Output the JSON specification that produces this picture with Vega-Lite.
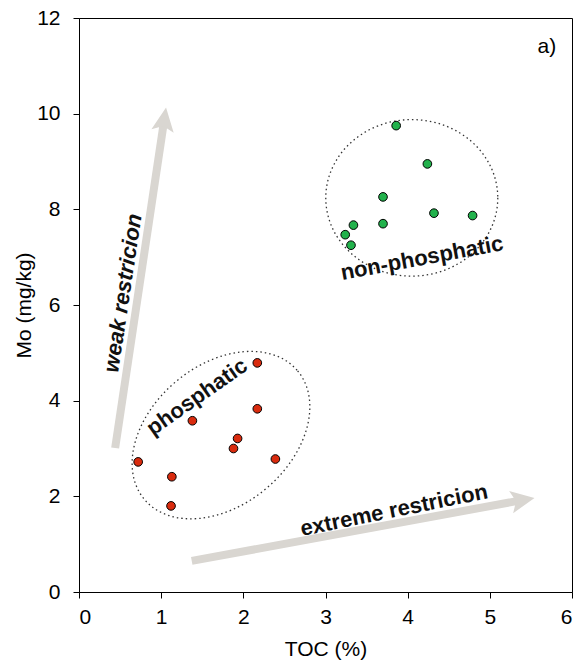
{
  "$schema": "https://vega.github.io/schema/vega-lite/v6.json",
  "width": 493,
  "height": 574,
  "autosize": "none",
  "padding": {"left": 79, "top": 18, "right": 10, "bottom": 76},
  "background": "white",
  "config": {
    "view": {"stroke": "black", "strokeWidth": 1},
    "axis": {
      "grid": false,
      "domainColor": "black",
      "tickColor": "black",
      "labelColor": "black",
      "titleColor": "black",
      "labelFont": "Liberation Sans",
      "titleFont": "Liberation Sans",
      "labelFontSize": 21,
      "titleFontSize": 21,
      "titleFontWeight": "normal",
      "tickSize": 6,
      "domainWidth": 1,
      "tickWidth": 1
    },
    "text": {"font": "Liberation Sans"}
  },
  "datasets": {
    "samples": [
      {"type": "phosphatic", "TOC": 2.17, "Mo": 4.79},
      {"type": "phosphatic", "TOC": 2.17, "Mo": 3.83},
      {"type": "phosphatic", "TOC": 1.38, "Mo": 3.58},
      {"type": "phosphatic", "TOC": 1.93, "Mo": 3.21},
      {"type": "phosphatic", "TOC": 1.88, "Mo": 3.00},
      {"type": "phosphatic", "TOC": 2.39, "Mo": 2.78},
      {"type": "phosphatic", "TOC": 0.72, "Mo": 2.72},
      {"type": "phosphatic", "TOC": 1.13, "Mo": 2.41},
      {"type": "phosphatic", "TOC": 1.12, "Mo": 1.80},
      {"type": "non-phosphatic", "TOC": 3.86, "Mo": 9.75},
      {"type": "non-phosphatic", "TOC": 4.24, "Mo": 8.95},
      {"type": "non-phosphatic", "TOC": 3.70, "Mo": 8.26},
      {"type": "non-phosphatic", "TOC": 4.32, "Mo": 7.92},
      {"type": "non-phosphatic", "TOC": 4.79, "Mo": 7.87},
      {"type": "non-phosphatic", "TOC": 3.70, "Mo": 7.70},
      {"type": "non-phosphatic", "TOC": 3.34, "Mo": 7.67},
      {"type": "non-phosphatic", "TOC": 3.24, "Mo": 7.47},
      {"type": "non-phosphatic", "TOC": 3.31, "Mo": 7.25}
    ],
    "regions": [
      {"region": "phosphatic", "TOC": 1.728, "Mo": 3.28},
      {"region": "non-phosphatic", "TOC": 4.05, "Mo": 8.24}
    ],
    "arrows": [
      {"arrow": "weak", "TOC": 0.44, "Mo": 3.01, "TOC2": 1.037, "Mo2": 9.87},
      {"arrow": "extreme", "TOC": 1.372, "Mo": 0.65, "TOC2": 5.394, "Mo2": 1.92}
    ],
    "labels": [
      {"label": "weak restricion", "TOC": 0.535, "Mo": 6.25},
      {"label": "phosphatic", "TOC": 1.436, "Mo": 4.08},
      {"label": "non-phosphatic", "TOC": 4.174, "Mo": 6.98},
      {"label": "extreme restricion", "TOC": 3.833, "Mo": 1.71},
      {"label": "a)", "TOC": 5.695, "Mo": 11.39}
    ]
  },
  "encoding": {
    "x": {
      "field": "TOC", "type": "quantitative",
      "scale": {"domain": [0, 6], "nice": false, "zero": false},
      "axis": {"title": "TOC (%)", "values": [0, 1, 2, 3, 4, 5, 6], "labelPadding": 8, "titlePadding": 11}
    },
    "y": {
      "field": "Mo", "type": "quantitative",
      "scale": {"domain": [0, 12], "nice": false, "zero": false},
      "axis": {"title": "Mo (mg/kg)", "values": [0, 2, 4, 6, 8, 10, 12], "labelPadding": 13, "titlePadding": 2}
    }
  },
  "layer": [
    {
      "data": {"name": "regions"},
      "transform": [{"filter": "datum.region === 'phosphatic'"}],
      "mark": {
        "type": "point",
        "shape": "M1,0C1,0.3866 0.5523,0.7 0,0.7C-0.5523,0.7 -1,0.3866 -1,0C-1,-0.3866 -0.5523,-0.7 0,-0.7C0.5523,-0.7 1,-0.3866 1,0Z",
        "size": 40000,
        "angle": -40,
        "filled": false,
        "stroke": "#333333",
        "strokeWidth": 1.3,
        "strokeDash": [1.5, 3],
        "opacity": 1
      }
    },
    {
      "data": {"name": "regions"},
      "transform": [{"filter": "datum.region === 'non-phosphatic'"}],
      "mark": {
        "type": "point",
        "shape": "M1,0C1,0.5026 0.5523,0.91 0,0.91C-0.5523,0.91 -1,0.5026 -1,0C-1,-0.5026 -0.5523,-0.91 0,-0.91C0.5523,-0.91 1,-0.5026 1,0Z",
        "size": 29584,
        "angle": 0,
        "filled": false,
        "stroke": "#333333",
        "strokeWidth": 1.3,
        "strokeDash": [1.5, 3],
        "opacity": 1
      }
    },
    {
      "data": {"name": "arrows"},
      "mark": {"type": "rule", "color": "#d9d6d1", "strokeWidth": 8, "strokeCap": "butt"},
      "encoding": {
        "x2": {"field": "TOC2"},
        "y2": {"field": "Mo2"}
      }
    },
    {
      "data": {"name": "arrows"},
      "transform": [{"filter": "datum.arrow === 'weak'"}],
      "mark": {"type": "point", "shape": "M0,-1L0.9,0.9L0,0.5L-0.9,0.9Z", "size": 625, "angle": 8.5, "filled": true, "color": "#d9d6d1", "opacity": 1},
      "encoding": {
        "x": {"field": "TOC2", "type": "quantitative"},
        "y": {"field": "Mo2", "type": "quantitative"}
      }
    },
    {
      "data": {"name": "arrows"},
      "transform": [{"filter": "datum.arrow === 'extreme'"}],
      "mark": {"type": "point", "shape": "M0,-1L0.9,0.9L0,0.5L-0.9,0.9Z", "size": 625, "angle": 79.7, "filled": true, "color": "#d9d6d1", "opacity": 1},
      "encoding": {
        "x": {"field": "TOC2", "type": "quantitative"},
        "y": {"field": "Mo2", "type": "quantitative"}
      }
    },
    {
      "data": {"name": "samples"},
      "mark": {"type": "circle", "size": 75, "stroke": "black", "strokeWidth": 1, "opacity": 1},
      "encoding": {
        "fill": {
          "field": "type", "type": "nominal",
          "scale": {"domain": ["phosphatic", "non-phosphatic"], "range": ["#d92b0e", "#22b24c"]},
          "legend": null
        }
      }
    },
    {
      "data": {"name": "labels"},
      "transform": [{"filter": "datum.label === 'weak restricion'"}],
      "mark": {"type": "text", "fontSize": 22, "fontWeight": "bold", "fontStyle": "italic", "angle": -81.5, "align": "center", "baseline": "middle", "color": "#111111"},
      "encoding": {"text": {"field": "label"}}
    },
    {
      "data": {"name": "labels"},
      "transform": [{"filter": "datum.label === 'phosphatic'"}],
      "mark": {"type": "text", "fontSize": 22, "fontWeight": "bold", "angle": -35, "align": "center", "baseline": "middle", "color": "#111111"},
      "encoding": {"text": {"field": "label"}}
    },
    {
      "data": {"name": "labels"},
      "transform": [{"filter": "datum.label === 'non-phosphatic'"}],
      "mark": {"type": "text", "fontSize": 22, "fontWeight": "bold", "angle": -10.5, "align": "center", "baseline": "middle", "color": "#111111"},
      "encoding": {"text": {"field": "label"}}
    },
    {
      "data": {"name": "labels"},
      "transform": [{"filter": "datum.label === 'extreme restricion'"}],
      "mark": {"type": "text", "fontSize": 22, "fontWeight": "bold", "angle": -11.5, "align": "center", "baseline": "middle", "color": "#111111"},
      "encoding": {"text": {"field": "label"}}
    },
    {
      "data": {"name": "labels"},
      "transform": [{"filter": "datum.label === 'a)'"}],
      "mark": {"type": "text", "fontSize": 21, "align": "center", "baseline": "middle", "color": "black"},
      "encoding": {"text": {"field": "label"}}
    }
  ]
}
